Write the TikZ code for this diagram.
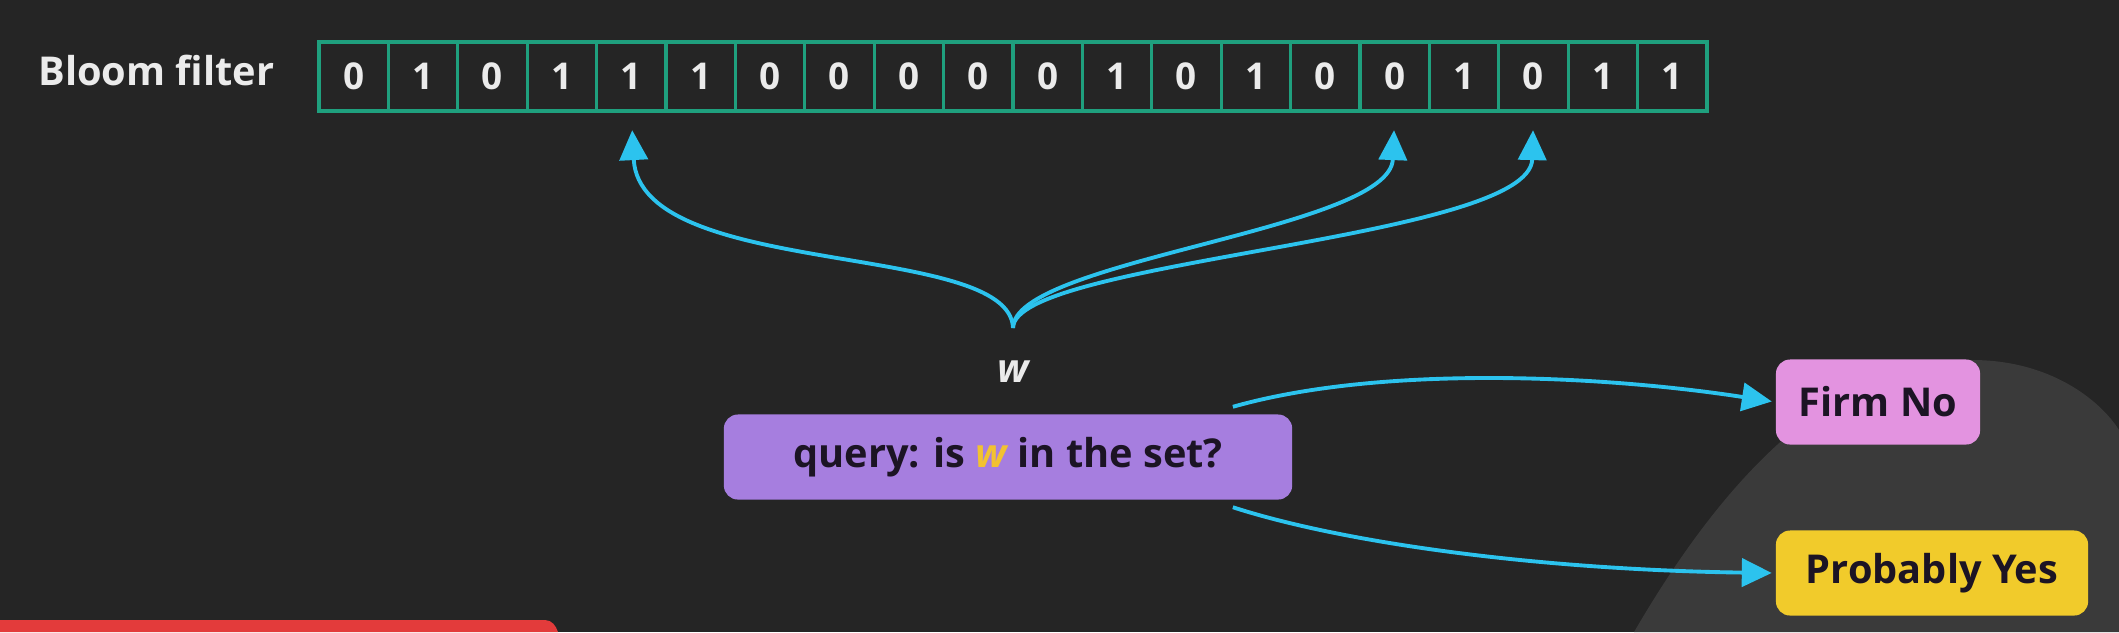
\documentclass[tikz,border=0pt]{standalone}
\usepackage{fontspec}
\setmainfont{Open Sans}
\usetikzlibrary{positioning, arrows.meta, calc}

\definecolor{bgdark}{HTML}{252525}
\definecolor{bgshade}{HTML}{3A3A3A}
\definecolor{cellline}{HTML}{1FA07E}
\definecolor{arrowcyan}{HTML}{2CC3EE}
\definecolor{querypurple}{HTML}{A67EDF}
\definecolor{nopink}{HTML}{E393E0}
\definecolor{yesyellow}{HTML}{F1CB2B}
\definecolor{wyellow}{HTML}{F2C230}
\definecolor{textdark}{HTML}{1C1424}
\definecolor{barred}{HTML}{E33B3B}

\begin{document}
\begin{tikzpicture}[
    x=0.01cm, y=-0.01cm,
    label/.style={text=white!92!black, font=\fontsize{11.3}{14}\selectfont\bfseries},
    cell/.style={rectangle, draw=cellline, line width=0.9pt,
                 minimum width=6.94mm, minimum height=6.9mm, inner sep=0pt,
                 text=white!92!black, font=\fontsize{10.5}{12}\selectfont\bfseries},
    answer/.style={rectangle, rounded corners=4pt, minimum height=8.5mm,
                   inner sep=0pt, text=textdark,
                   font=\fontsize{11.3}{14}\selectfont\bfseries},
    link/.style={draw=arrowcyan, line width=1.1pt,
                 -{Triangle[length=8.5pt, width=8pt]}}
]
  % backdrop
  \fill[bgdark] (0,0) rectangle (2119,632);
  \fill[bgshade] (1634,632) .. controls (1740,450) and (1850,360) .. (1972,360)
      .. controls (2050,360) and (2100,400) .. (2119,430) -- (2119,632) -- cycle;
  \fill[barred] (0,620) -- (545,620) .. controls (552,620) and (556,626) .. (558,632)
      -- (0,632) -- cycle;

  % the filter
  \node[label, anchor=west] (title) at (26,70) {Bloom filter};
  \foreach \b [count=\i] in {0,1,0,1,1,1,0,0,0,0,0,1,0,1,0,0,1,0,1,1}
    \node[cell] (c\i) at ({319+69.4*(\i-0.5)},76.5) {\b};

  % the query
  \node[label, font=\fontsize{11.3}{14}\selectfont\bfseries\itshape] (w) at (1013,372) {w};
  \coordinate (src) at (1013,328);
  \node[answer, fill=querypurple, minimum width=56.8mm] (query) at (1008,457)
      {query: is {\color{wyellow}\itshape w} in the set?};
  \node[answer, fill=nopink, minimum width=20.4mm] (no) at (1878,402) {Firm No};
  \node[answer, fill=yesyellow, minimum width=31.2mm] (yes) at (1932,573) {Probably Yes};

  \draw[link, shorten >=5pt] (src) .. controls (1010,240) and (640,280) .. (c5.south);
  \draw[link, shorten >=5pt] (src) .. controls (1013,260) and (1390,230) .. (c16.south);
  \draw[link, shorten >=5pt] (src) .. controls (1013,260) and (1530,240) .. (c18.south);

  \draw[link, shorten >=1pt] ($(query.north east)+(-60,-7)$)
      .. controls (1380,365) and (1600,375) .. (no.west);
  \draw[link, shorten >=1pt] ($(query.south east)+(-60,7)$)
      .. controls (1350,545) and (1550,570) .. (yes.west);
\end{tikzpicture}
\end{document}
